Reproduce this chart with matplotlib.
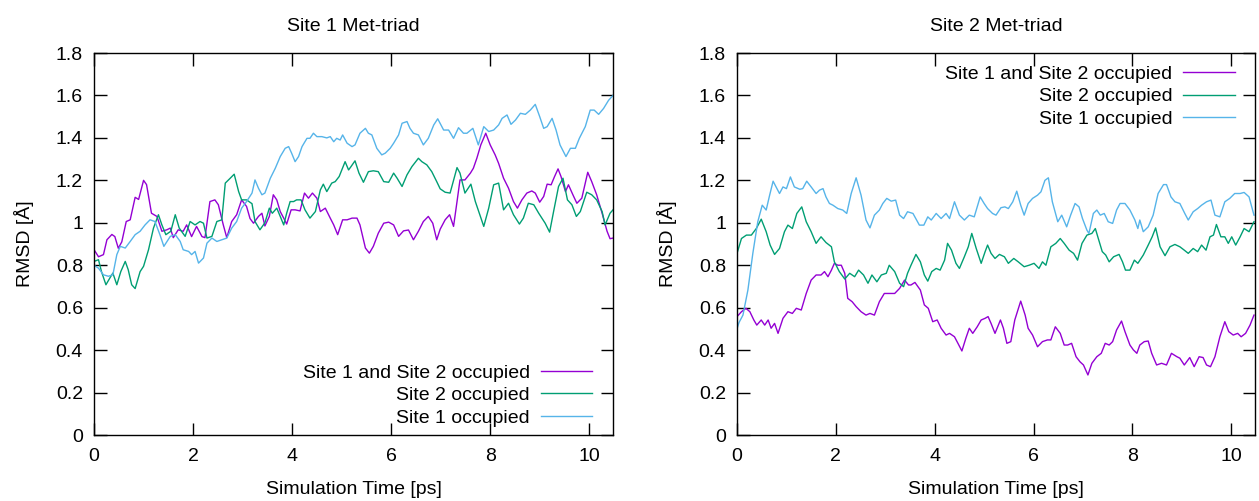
import matplotlib
matplotlib.use('Agg')
import matplotlib.pyplot as plt

plt.rcParams['font.family'] = ['Liberation Sans', 'DejaVu Sans']
plt.rcParams['font.size'] = 14

# ---- Site 1 Met-triad --------------------------------------------------------
s1_both_t = [0.00, 0.09, 0.19, 0.26, 0.36, 0.42, 0.49, 0.56, 0.65, 0.73, 0.83, 0.90, 1.00, 1.06, 1.16,
             1.27, 1.37, 1.47, 1.54, 1.60, 1.70, 1.80, 1.87, 1.97, 2.07, 2.18, 2.24, 2.34, 2.44, 2.51,
             2.61, 2.68, 2.78, 2.88, 2.98, 3.08, 3.15, 3.22, 3.32, 3.39, 3.45, 3.54, 3.62, 3.69, 3.76,
             3.83, 3.89, 3.98, 4.06, 4.16, 4.25, 4.33, 4.41, 4.50, 4.57, 4.67, 4.77, 4.84, 4.92, 5.02,
             5.11, 5.21, 5.31, 5.37, 5.48, 5.56, 5.64, 5.74, 5.85, 5.95, 6.05, 6.15, 6.25, 6.35, 6.45,
             6.55, 6.65, 6.75, 6.84, 6.92, 6.99, 7.09, 7.18, 7.26, 7.33, 7.39, 7.49, 7.60, 7.66, 7.73,
             7.81, 7.91, 8.00, 8.10, 8.17, 8.27, 8.37, 8.47, 8.55, 8.64, 8.74, 8.84, 8.91, 9.00, 9.08,
             9.15, 9.23, 9.30, 9.37, 9.43, 9.52, 9.58, 9.67, 9.75, 9.85, 9.97, 10.05, 10.15, 10.26,
             10.36, 10.42, 10.48]
s1_both = [0.873, 0.84, 0.85, 0.92, 0.945, 0.935, 0.88, 0.91, 1.006, 1.014, 1.12, 1.11, 1.20, 1.18, 1.045,
           1.03, 0.96, 0.967, 0.975, 0.93, 0.967, 0.96, 0.99, 0.935, 0.983, 0.935, 0.93, 1.10, 1.108, 1.085,
           0.99, 0.93, 1.006, 1.038, 1.108, 1.077, 1.02, 0.998, 1.03, 1.045, 0.985, 1.03, 1.132, 1.108, 1.053,
           1.022, 0.994, 1.061, 1.061, 1.056, 1.14, 1.116, 1.14, 1.116, 1.053, 1.069, 1.022, 0.99, 0.944, 1.014,
           1.014, 1.022, 1.022, 0.99, 0.881, 0.857, 0.889, 0.951, 0.998, 1.003, 0.99, 0.936, 0.962, 0.966, 0.92,
           0.96, 1.006, 1.03, 0.998, 0.92, 0.97, 1.014, 1.038, 0.983, 1.10, 1.202, 1.202, 1.234, 1.257, 1.304,
           1.367, 1.422, 1.367, 1.32, 1.28, 1.21, 1.163, 1.10, 1.069, 1.108, 1.14, 1.15, 1.14, 1.097, 1.124,
           1.182, 1.179, 1.218, 1.254, 1.218, 1.147, 1.179, 1.132, 1.092, 1.116, 1.238, 1.194, 1.132, 1.045,
           0.96, 0.925, 0.928]

s1_site2_t = [0.00, 0.09, 0.15, 0.24, 0.32, 0.38, 0.46, 0.54, 0.63, 0.69, 0.76, 0.83, 0.93, 1.00, 1.10,
              1.20, 1.30, 1.37, 1.45, 1.55, 1.64, 1.72, 1.84, 1.94, 2.04, 2.14, 2.21, 2.28, 2.38, 2.48,
              2.58, 2.65, 2.75, 2.83, 2.92, 2.98, 3.08, 3.19, 3.25, 3.35, 3.45, 3.54, 3.60, 3.69, 3.76,
              3.83, 3.89, 3.96, 4.03, 4.09, 4.18, 4.26, 4.36, 4.47, 4.57, 4.63, 4.70, 4.80, 4.87, 4.95,
              5.07, 5.14, 5.19, 5.27, 5.35, 5.44, 5.54, 5.64, 5.74, 5.85, 5.95, 6.05, 6.12, 6.22, 6.32,
              6.42, 6.55, 6.62, 6.72, 6.82, 6.92, 6.99, 7.09, 7.19, 7.33, 7.39, 7.49, 7.61, 7.70, 7.78,
              7.87, 7.97, 8.07, 8.17, 8.27, 8.37, 8.47, 8.59, 8.67, 8.77, 8.88, 8.98, 9.11, 9.20, 9.28,
              9.38, 9.47, 9.56, 9.65, 9.74, 9.82, 9.95, 10.05, 10.15, 10.26, 10.32, 10.42, 10.48]
s1_site2 = [0.818, 0.826, 0.77, 0.708, 0.74, 0.763, 0.708, 0.77, 0.818, 0.779, 0.708, 0.69, 0.77, 0.795, 0.873,
            0.975, 1.038, 0.99, 0.944, 0.96, 1.038, 0.975, 0.936, 1.006, 0.99, 1.006, 0.998, 0.928, 0.936, 1.006,
            1.014, 1.187, 1.21, 1.229, 1.147, 1.108, 1.108, 1.09, 1.006, 0.967, 1.0, 1.069, 1.045, 1.069, 1.03,
            0.99, 1.045, 1.10, 1.10, 1.108, 1.108, 1.061, 1.022, 1.053, 1.155, 1.182, 1.147, 1.187, 1.194, 1.218,
            1.288, 1.249, 1.265, 1.292, 1.234, 1.191, 1.241, 1.245, 1.241, 1.194, 1.191, 1.234, 1.21, 1.171, 1.226,
            1.265, 1.304, 1.288, 1.273, 1.241, 1.194, 1.16, 1.144, 1.14, 1.26, 1.234, 1.14, 1.182, 1.10, 1.045,
            0.983, 1.069, 1.179, 1.187, 1.061, 1.092, 1.038, 0.994, 1.022, 1.092, 1.085, 1.045, 0.998, 0.956, 1.053,
            1.171, 1.21, 1.108, 1.085, 1.03, 1.053, 1.144, 1.132, 1.108, 1.053, 0.99, 1.045, 1.061]

s1_site1_t = [0.00, 0.09, 0.19, 0.29, 0.38, 0.46, 0.53, 0.63, 0.73, 0.83, 0.93, 1.03, 1.13, 1.23, 1.33,
              1.41, 1.54, 1.64, 1.74, 1.80, 1.91, 1.97, 2.04, 2.11, 2.21, 2.28, 2.38, 2.48, 2.58, 2.68,
              2.78, 2.88, 2.98, 3.08, 3.19, 3.25, 3.32, 3.39, 3.45, 3.56, 3.66, 3.76, 3.86, 3.93, 3.99,
              4.06, 4.13, 4.20, 4.30, 4.36, 4.43, 4.50, 4.60, 4.70, 4.77, 4.84, 4.90, 4.97, 5.02, 5.11,
              5.21, 5.27, 5.37, 5.48, 5.54, 5.61, 5.71, 5.81, 5.88, 5.98, 6.05, 6.15, 6.22, 6.32, 6.38,
              6.45, 6.55, 6.65, 6.75, 6.86, 6.94, 7.06, 7.16, 7.26, 7.36, 7.46, 7.53, 7.65, 7.76, 7.87,
              7.97, 8.07, 8.17, 8.24, 8.34, 8.42, 8.51, 8.61, 8.71, 8.81, 8.91, 9.00, 9.08, 9.15, 9.25,
              9.33, 9.41, 9.53, 9.62, 9.72, 9.80, 9.92, 10.02, 10.10, 10.19, 10.29, 10.39, 10.48]
s1_site1 = [0.80, 0.786, 0.755, 0.748, 0.755, 0.85, 0.889, 0.881, 0.912, 0.944, 0.96, 0.99, 1.014, 1.006, 0.944,
            0.889, 0.936, 0.944, 0.912, 0.873, 0.865, 0.85, 0.865, 0.81, 0.834, 0.904, 0.928, 0.912, 0.92, 0.928,
            0.975, 1.006, 1.069, 1.10, 1.14, 1.202, 1.163, 1.132, 1.14, 1.21, 1.257, 1.312, 1.351, 1.359, 1.328,
            1.288, 1.312, 1.359, 1.398, 1.398, 1.422, 1.406, 1.406, 1.40, 1.406, 1.382, 1.398, 1.39, 1.414, 1.375,
            1.359, 1.367, 1.422, 1.445, 1.422, 1.414, 1.351, 1.32, 1.328, 1.351, 1.375, 1.414, 1.469, 1.477, 1.445,
            1.422, 1.414, 1.367, 1.398, 1.461, 1.49, 1.437, 1.437, 1.398, 1.448, 1.422, 1.422, 1.445, 1.367, 1.453,
            1.43, 1.437, 1.461, 1.492, 1.508, 1.464, 1.484, 1.516, 1.511, 1.531, 1.558, 1.50, 1.445, 1.453, 1.492,
            1.437, 1.367, 1.312, 1.351, 1.351, 1.398, 1.453, 1.531, 1.531, 1.511, 1.539, 1.577, 1.60]

# ---- Site 2 Met-triad --------------------------------------------------------
s2_both_t = [0.00, 0.09, 0.18, 0.26, 0.34, 0.40, 0.49, 0.56, 0.63, 0.69, 0.76, 0.83, 0.93, 1.03, 1.12,
             1.20, 1.30, 1.40, 1.50, 1.60, 1.70, 1.77, 1.84, 1.91, 1.97, 2.04, 2.11, 2.18, 2.24, 2.33,
             2.41, 2.51, 2.61, 2.69, 2.78, 2.88, 2.98, 3.08, 3.19, 3.29, 3.39, 3.47, 3.52, 3.60, 3.71,
             3.79, 3.87, 3.96, 4.05, 4.13, 4.23, 4.30, 4.40, 4.47, 4.55, 4.63, 4.70, 4.77, 4.86, 4.94,
             5.02, 5.08, 5.14, 5.22, 5.33, 5.39, 5.46, 5.54, 5.62, 5.74, 5.83, 5.89, 5.98, 6.08, 6.18,
             6.28, 6.35, 6.44, 6.54, 6.62, 6.69, 6.77, 6.86, 6.94, 7.01, 7.10, 7.18, 7.28, 7.37, 7.45,
             7.53, 7.60, 7.68, 7.78, 7.85, 7.95, 8.02, 8.09, 8.15, 8.24, 8.32, 8.39, 8.49, 8.59, 8.69,
             8.79, 8.90, 8.96, 9.05, 9.16, 9.25, 9.35, 9.43, 9.50, 9.58, 9.67, 9.77, 9.87, 9.95, 10.04,
             10.13, 10.20, 10.29, 10.38, 10.46]
s2_both = [0.558, 0.581, 0.597, 0.581, 0.542, 0.518, 0.542, 0.518, 0.542, 0.503, 0.526, 0.479, 0.55, 0.581, 0.573,
           0.597, 0.589, 0.667, 0.73, 0.754, 0.754, 0.77, 0.746, 0.777, 0.809, 0.80, 0.80, 0.762, 0.644, 0.628,
           0.605, 0.581, 0.565, 0.573, 0.565, 0.628, 0.667, 0.667, 0.667, 0.691, 0.73, 0.707, 0.707, 0.719, 0.683,
           0.613, 0.597, 0.534, 0.542, 0.503, 0.471, 0.479, 0.463, 0.432, 0.396, 0.456, 0.503, 0.479, 0.51, 0.542,
           0.55, 0.558, 0.526, 0.479, 0.542, 0.503, 0.432, 0.44, 0.542, 0.631, 0.565, 0.503, 0.471, 0.416, 0.44,
           0.448, 0.448, 0.51, 0.479, 0.424, 0.424, 0.432, 0.369, 0.345, 0.33, 0.283, 0.338, 0.369, 0.385, 0.432,
           0.424, 0.44, 0.495, 0.537, 0.487, 0.424, 0.401, 0.385, 0.424, 0.44, 0.443, 0.385, 0.33, 0.338, 0.33,
           0.385, 0.369, 0.362, 0.33, 0.365, 0.322, 0.369, 0.365, 0.33, 0.322, 0.369, 0.463, 0.534, 0.487, 0.471,
           0.479, 0.463, 0.479, 0.518, 0.565]

s2_site2_t = [0.00, 0.09, 0.19, 0.29, 0.39, 0.49, 0.59, 0.67, 0.76, 0.86, 0.96, 1.03, 1.12, 1.21, 1.31,
              1.40, 1.50, 1.60, 1.70, 1.80, 1.91, 1.97, 2.07, 2.18, 2.28, 2.38, 2.46, 2.56, 2.65, 2.73,
              2.83, 2.92, 3.02, 3.08, 3.19, 3.29, 3.37, 3.45, 3.52, 3.62, 3.71, 3.79, 3.86, 3.94, 4.03,
              4.11, 4.20, 4.26, 4.34, 4.43, 4.50, 4.60, 4.68, 4.75, 4.84, 4.94, 5.02, 5.07, 5.14, 5.22,
              5.31, 5.41, 5.49, 5.60, 5.69, 5.81, 5.91, 6.01, 6.11, 6.18, 6.25, 6.35, 6.45, 6.54, 6.62,
              6.72, 6.81, 6.89, 6.98, 7.08, 7.18, 7.25, 7.31, 7.39, 7.46, 7.53, 7.62, 7.73, 7.80, 7.86,
              7.95, 8.04, 8.11, 8.22, 8.32, 8.40, 8.47, 8.56, 8.66, 8.76, 8.86, 8.96, 9.05, 9.13, 9.23,
              9.32, 9.40, 9.49, 9.57, 9.64, 9.70, 9.79, 9.87, 9.94, 10.01, 10.09, 10.18, 10.26, 10.36,
              10.46]
s2_site2 = [0.856, 0.926, 0.942, 0.942, 0.973, 1.017, 0.958, 0.895, 0.851, 0.879, 0.958, 0.989, 0.973, 1.044, 1.075,
            1.005, 0.958, 0.903, 0.934, 0.907, 0.887, 0.816, 0.77, 0.735, 0.762, 0.746, 0.777, 0.754, 0.715, 0.754,
            0.722, 0.754, 0.762, 0.80, 0.77, 0.715, 0.699, 0.762, 0.80, 0.851, 0.816, 0.754, 0.725, 0.77, 0.785,
            0.777, 0.824, 0.903, 0.871, 0.809, 0.785, 0.84, 0.887, 0.95, 0.879, 0.809, 0.864, 0.895, 0.856, 0.832,
            0.851, 0.84, 0.809, 0.832, 0.816, 0.793, 0.80, 0.809, 0.785, 0.816, 0.80, 0.887, 0.903, 0.926, 0.903,
            0.871, 0.856, 0.824, 0.903, 0.942, 0.95, 0.973, 0.926, 0.864, 0.848, 0.816, 0.84, 0.851, 0.816, 0.777,
            0.777, 0.824, 0.809, 0.848, 0.895, 0.934, 0.976, 0.887, 0.845, 0.887, 0.898, 0.887, 0.871, 0.856, 0.879,
            0.864, 0.895, 0.871, 0.934, 0.942, 0.992, 0.934, 0.934, 0.903, 0.934, 0.895, 0.934, 0.973, 0.958,
            1.005]

s2_site1_t = [0.00, 0.04, 0.12, 0.22, 0.32, 0.42, 0.51, 0.59, 0.66, 0.73, 0.79, 0.86, 0.93, 1.00, 1.08,
              1.16, 1.27, 1.33, 1.41, 1.50, 1.60, 1.67, 1.74, 1.80, 1.87, 1.94, 2.04, 2.14, 2.22, 2.31,
              2.41, 2.51, 2.61, 2.69, 2.78, 2.88, 2.95, 3.03, 3.12, 3.21, 3.29, 3.37, 3.45, 3.56, 3.69,
              3.78, 3.86, 3.93, 4.03, 4.13, 4.23, 4.30, 4.40, 4.50, 4.60, 4.70, 4.80, 4.92, 5.00, 5.07,
              5.17, 5.24, 5.34, 5.42, 5.49, 5.58, 5.66, 5.74, 5.81, 5.89, 5.98, 6.08, 6.15, 6.23, 6.30,
              6.38, 6.49, 6.57, 6.67, 6.75, 6.84, 6.92, 6.99, 7.08, 7.12, 7.21, 7.28, 7.35, 7.43, 7.51,
              7.60, 7.68, 7.75, 7.85, 7.95, 8.05, 8.11, 8.15, 8.22, 8.32, 8.42, 8.52, 8.63, 8.69, 8.78,
              8.86, 8.96, 9.06, 9.13, 9.23, 9.32, 9.40, 9.50, 9.59, 9.67, 9.77, 9.87, 9.97, 10.07, 10.18,
              10.26, 10.36, 10.46]
s2_site1 = [0.50, 0.53, 0.565, 0.683, 0.856, 1.005, 1.083, 1.06, 1.13, 1.196, 1.169, 1.138, 1.169, 1.161, 1.216,
            1.169, 1.158, 1.161, 1.196, 1.169, 1.138, 1.154, 1.161, 1.122, 1.091, 1.083, 1.067, 1.06, 1.044, 1.138,
            1.212, 1.13, 1.013, 0.976, 1.036, 1.06, 1.091, 1.115, 1.102, 1.107, 1.036, 1.02, 1.052, 1.044, 0.989,
            0.989, 1.028, 1.013, 1.044, 1.02, 1.044, 1.02, 1.099, 1.036, 1.013, 1.036, 1.028, 1.122, 1.091, 1.067,
            1.044, 1.036, 1.071, 1.075, 1.067, 1.099, 1.149, 1.083, 1.036, 1.091, 1.115, 1.13, 1.146, 1.20, 1.212,
            1.099, 1.005, 1.036, 0.981, 1.036, 1.091, 1.075, 1.02, 0.965, 0.95, 1.044, 1.06, 1.036, 1.044, 1.005,
            0.997, 1.06, 1.091, 1.091, 1.06, 1.013, 0.973, 1.013, 0.958, 0.981, 1.036, 1.138, 1.18, 1.18, 1.122,
            1.099, 1.091, 1.044, 1.013, 1.052, 1.067, 1.083, 1.099, 1.107, 1.036, 1.028, 1.099, 1.115, 1.138, 1.138,
            1.143, 1.122, 1.036]

labels = ['Site 1 and Site 2 occupied', 'Site 2 occupied', 'Site 1 occupied']
colors = ['#9400d3', '#009e73', '#56b4e9']      # gnuplot default line colours
titles = ['Site 1 Met-triad', 'Site 2 Met-triad']

panels = [
    [(s1_both_t, s1_both), (s1_site2_t, s1_site2), (s1_site1_t, s1_site1)],
    [(s2_both_t, s2_both), (s2_site2_t, s2_site2), (s2_site1_t, s2_site1)],
]

fig = plt.figure(figsize=(12.59, 5.01), dpi=100)
ax1 = fig.add_axes([0.0747, 0.1317, 0.4122, 0.7625])
ax2 = fig.add_axes([0.5854, 0.1317, 0.4114, 0.7625])

for ax, series, title in zip([ax1, ax2], panels, titles):
    for (t, y), lab, col in zip(series, labels, colors):
        ax.plot(t, y, color=col, lw=1.0, label=lab)
    ax.set_xlim(0, 10.48)
    ax.set_ylim(0, 1.8)
    ax.set_xticks([0, 2, 4, 6, 8, 10])
    ax.set_yticks([0, 0.2, 0.4, 0.6, 0.8, 1, 1.2, 1.4, 1.6, 1.8])
    ax.set_yticklabels(['0', '0.2', '0.4', '0.6', '0.8', '1', '1.2', '1.4', '1.6', '1.8'])
    ax.tick_params(direction='in', length=9, width=1, top=True, right=True, labelsize=14, pad=8)
    ax.tick_params(axis='x', pad=9)
    for sp in ax.spines.values():
        sp.set_linewidth(1)
    ax.set_title(title, fontsize=14, pad=15.5)
    ax.set_xlabel('Simulation Time [ps]', fontsize=14)
    ax.set_ylabel('RMSD [Å]', fontsize=14)
    ax.xaxis.set_label_coords(0.5, -0.12)
    ax.yaxis.set_label_coords(-0.116, 0.5)

leg_opts = dict(frameon=False, markerfirst=False, fontsize=14, handlelength=2.65,
                handletextpad=0.55, labelspacing=0.25, borderpad=0, borderaxespad=0)
ax1.legend(loc='lower right', bbox_to_anchor=(0.96, 0.022), **leg_opts)
ax2.legend(loc='upper right', bbox_to_anchor=(0.961, 0.968), **leg_opts)

plt.savefig('out.png', dpi=100)
